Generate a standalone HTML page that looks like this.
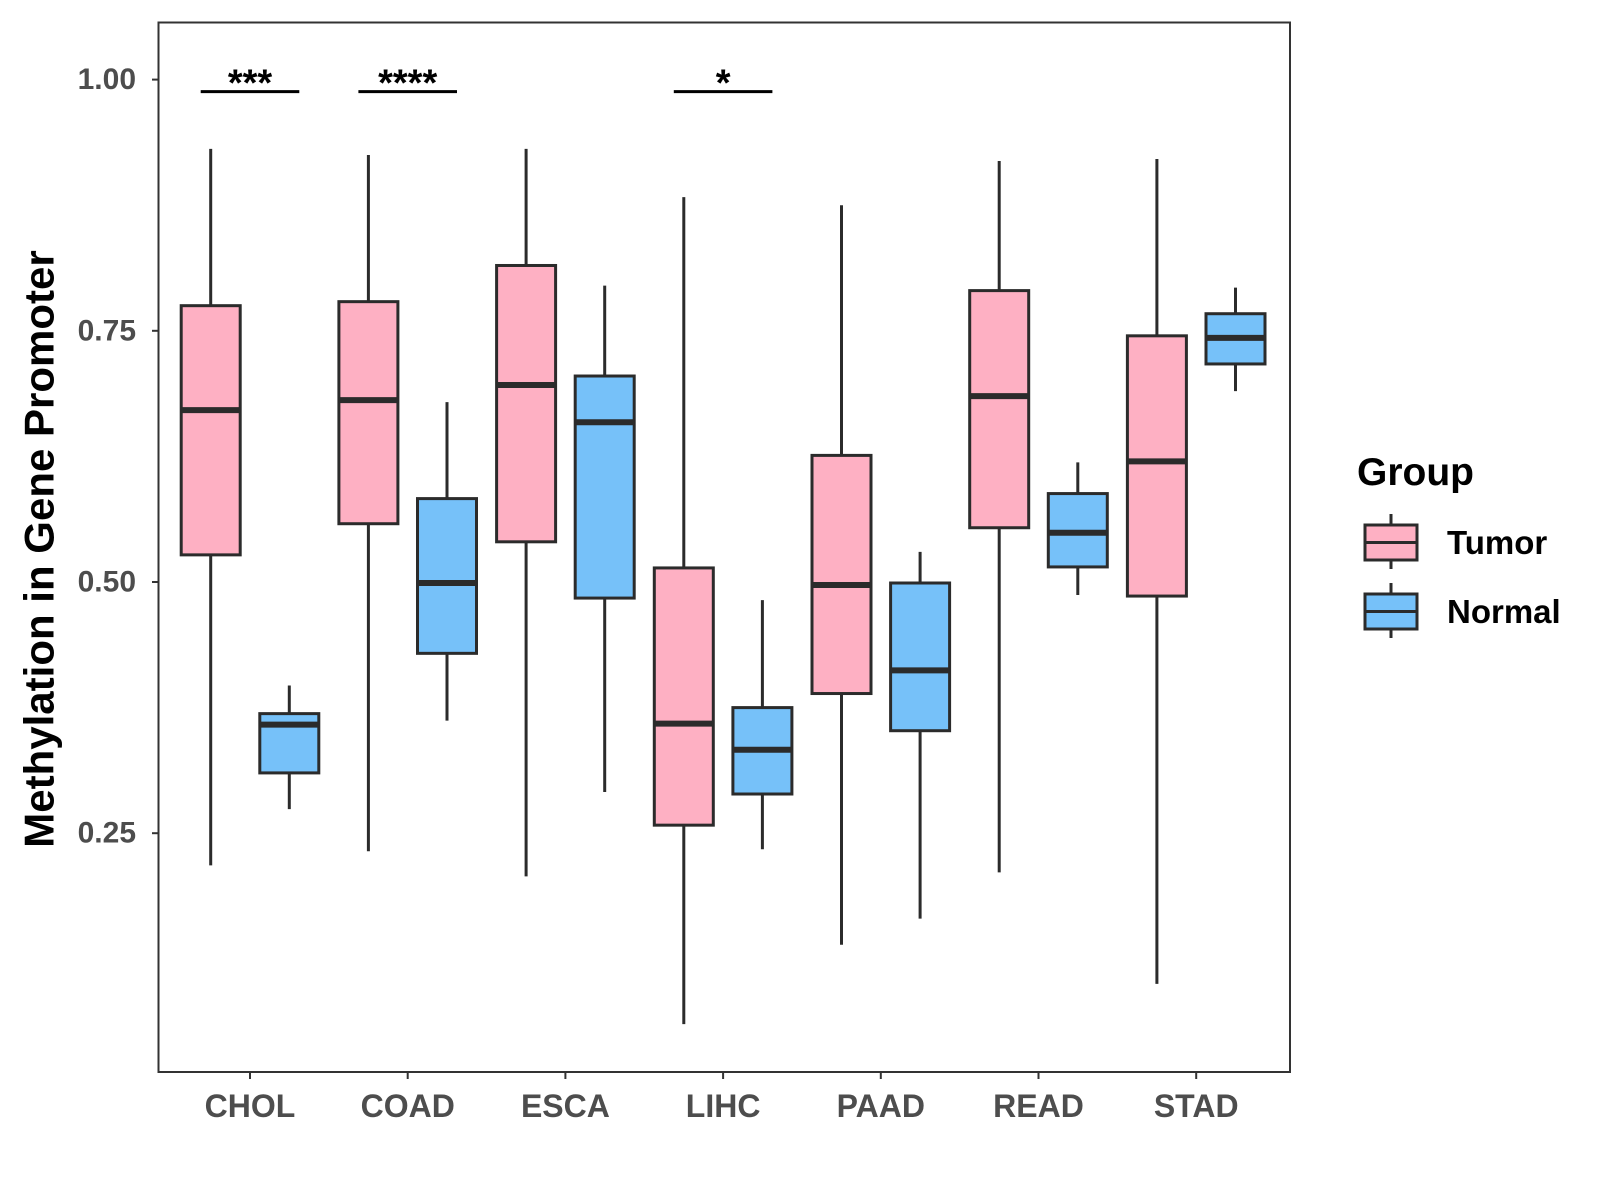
<!DOCTYPE html>
<html><head><meta charset="utf-8"><style>
html,body{margin:0;padding:0;background:#fff}
svg{display:block}
text{font-family:"Liberation Sans",Arial,sans-serif;font-weight:bold}
</style></head><body>
<svg id="chart" width="1600" height="1200" viewBox="0 0 1600 1200" xmlns="http://www.w3.org/2000/svg">
<rect x="0" y="0" width="1600" height="1200" fill="#fff"/>
<g id="plot"></g>
<rect x="158.5" y="22.5" width="1131.5" height="1049.5" fill="none" stroke="#333" stroke-width="2"/>
<text x="39" y="549" transform="rotate(-90 39 549)" text-anchor="middle" dominant-baseline="central" font-size="42" fill="#000">Methylation in Gene Promoter</text>
<g>
<text x="1357" y="485" font-size="39" fill="#000">Group</text>
<g>
<line x1="1391" y1="514" x2="1391" y2="569" stroke="#2b2b2b" stroke-width="3"/>
<rect x="1365" y="525" width="52" height="35" fill="#FEB0C3" stroke="#2b2b2b" stroke-width="3"/>
<line x1="1365" y1="542.5" x2="1417" y2="542.5" stroke="#2b2b2b" stroke-width="3"/>
<text x="1447" y="554" font-size="33" fill="#000">Tumor</text>
</g>
<g>
<line x1="1391" y1="583" x2="1391" y2="638" stroke="#2b2b2b" stroke-width="3"/>
<rect x="1365" y="594" width="52" height="35" fill="#76C1F9" stroke="#2b2b2b" stroke-width="3"/>
<line x1="1365" y1="611.5" x2="1417" y2="611.5" stroke="#2b2b2b" stroke-width="3"/>
<text x="1447" y="623" font-size="33" fill="#000">Normal</text>
</g>
</g>
</svg>
<script>
const categories = ["CHOL","COAD","ESCA","LIHC","PAAD","READ","STAD"];
// [lower whisker, Q1, median, Q3, upper whisker]
const tumorStats = [
 [0.218,0.527,0.671,0.775,0.931],
 [0.232,0.558,0.681,0.779,0.925],
 [0.207,0.540,0.696,0.815,0.931],
 [0.060,0.258,0.359,0.514,0.883],
 [0.139,0.389,0.497,0.626,0.875],
 [0.211,0.554,0.685,0.790,0.919],
 [0.100,0.486,0.620,0.745,0.921]
];
const normalStats = [
 [0.274,0.310,0.358,0.369,0.397],
 [0.362,0.429,0.499,0.583,0.679],
 [0.291,0.484,0.659,0.705,0.795],
 [0.234,0.289,0.333,0.375,0.482],
 [0.165,0.352,0.412,0.499,0.530],
 [0.487,0.515,0.549,0.588,0.619],
 [0.690,0.717,0.743,0.767,0.793]
];
const yTicks = [0.25,0.50,0.75,1.00];
const yTickLabels = ["0.25","0.50","0.75","1.00"];
const sigCategories = ["CHOL","COAD","LIHC"];
const sigLabels = ["***","****","*"];
const sigLevel = 0.988;

const NS="http://www.w3.org/2000/svg";
const y = v => 79.6 + (1 - v) * 1004.8;
const x = i => 250 + i * 157.7;
const off = 39.3, bw = 59;
const plot = document.getElementById('plot');
const svg = document.getElementById('chart');
function mk(tag, attrs, parent){const e=document.createElementNS(NS,tag);for(const k in attrs)e.setAttribute(k,attrs[k]);(parent||plot).appendChild(e);return e;}

yTicks.forEach((t,i)=>{
  const tk=mk('line',{x1:152,x2:158.5,y1:y(t),y2:y(t),stroke:'#333','stroke-width':2},svg);
  
  
  const tl=mk('text',{x:136,y:y(t),'text-anchor':'end','dominant-baseline':'central','font-size':30,fill:'#4d4d4d'},svg);
  tl.textContent=yTickLabels[i];
  
  
});
categories.forEach((c,i)=>{
  const tk=mk('line',{x1:x(i),x2:x(i),y1:1072,y2:1079,stroke:'#333','stroke-width':2},svg);
  
  
  const tl=mk('text',{x:x(i),y:1106,'text-anchor':'middle','dominant-baseline':'central','font-size':32,fill:'#4d4d4d'},svg);
  tl.textContent=c;
  
  
});
function box(cx, s, fill, name){
  const g=mk('g',{});
  
  
  mk('line',{x1:cx,x2:cx,y1:y(s[4]),y2:y(s[0]),stroke:'#2b2b2b','stroke-width':3},g);
  mk('rect',{x:cx-bw/2,y:y(s[3]),width:bw,height:y(s[1])-y(s[3]),fill:fill,stroke:'#2b2b2b','stroke-width':3},g);
  mk('line',{x1:cx-bw/2,x2:cx+bw/2,y1:y(s[2]),y2:y(s[2]),stroke:'#2b2b2b','stroke-width':6},g);
}
categories.forEach((c,i)=>{
  box(x(i)-off, tumorStats[i], '#FEB0C3', 'box-tumor-'+c.toLowerCase());
  box(x(i)+off, normalStats[i], '#76C1F9', 'box-normal-'+c.toLowerCase());
});
sigCategories.forEach((c,j)=>{
  const i=categories.indexOf(c);
  const l=mk('line',{x1:x(i)-off-10,x2:x(i)+off+10,y1:y(sigLevel),y2:y(sigLevel),stroke:'#000','stroke-width':3});
  
  
  const t=mk('text',{x:x(i),y:y(sigLevel)+4,'text-anchor':'middle','font-size':38,fill:'#000'});
  t.textContent=sigLabels[j];
  
  
});
</script>
</body></html>
